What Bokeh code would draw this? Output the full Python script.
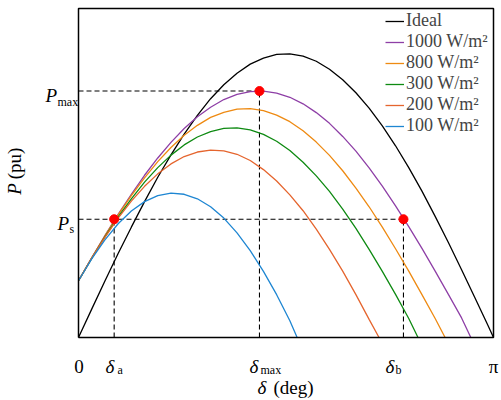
import math
from bokeh.plotting import figure
from bokeh.models import Range1d, Label, Legend, LegendItem
from bokeh.embed import file_html
from bokeh.resources import INLINE

# ---- data ----
delta_ideal = [0.0, 0.1, 0.2, 0.3, 0.4, 0.5, 0.6, 0.7, 0.8, 0.9, 1.0, 1.1, 1.2, 1.3, 1.4, 1.5,
               1.6, 1.7, 1.8, 1.9, 2.0, 2.1, 2.2, 2.3, 2.4, 2.5, 2.6, 2.7, 2.8, 2.9, 3.0, 3.1, math.pi]
p_ideal = [0.000, 0.100, 0.199, 0.296, 0.389, 0.479, 0.565, 0.644, 0.717, 0.783, 0.842, 0.891,
           0.932, 0.964, 0.985, 0.998, 1.000, 0.992, 0.974, 0.946, 0.909, 0.863, 0.809, 0.746,
           0.676, 0.599, 0.516, 0.427, 0.335, 0.239, 0.141, 0.042, 0.000]

delta_1000 = [0.0, 0.1, 0.2, 0.3, 0.4, 0.5, 0.6, 0.7, 0.8, 0.9, 1.0, 1.1, 1.2, 1.3, 1.4, 1.5,
              1.6, 1.7, 1.8, 1.9, 2.0, 2.1, 2.2, 2.3, 2.4, 2.5, 2.6, 2.7, 2.8, 2.9, 2.97]
p_1000 = [0.200, 0.281, 0.359, 0.434, 0.505, 0.572, 0.633, 0.688, 0.737, 0.778, 0.812, 0.839,
          0.857, 0.867, 0.869, 0.862, 0.847, 0.824, 0.793, 0.755, 0.709, 0.657, 0.598, 0.534,
          0.464, 0.391, 0.314, 0.234, 0.152, 0.069, 0.000]

delta_800 = [0.0, 0.1, 0.2, 0.3, 0.4, 0.5, 0.6, 0.7, 0.8, 0.9, 1.0, 1.1, 1.2, 1.3, 1.4, 1.5,
             1.6, 1.7, 1.8, 1.9, 2.0, 2.1, 2.2, 2.3, 2.4, 2.5, 2.6, 2.7, 2.775]
p_800 = [0.200, 0.281, 0.358, 0.432, 0.500, 0.563, 0.620, 0.670, 0.713, 0.748, 0.776, 0.794,
         0.805, 0.807, 0.800, 0.784, 0.761, 0.729, 0.689, 0.642, 0.588, 0.527, 0.461, 0.389,
         0.313, 0.234, 0.151, 0.067, 0.000]

delta_300 = [0.0, 0.1, 0.2, 0.3, 0.4, 0.5, 0.6, 0.7, 0.8, 0.9, 1.0, 1.1, 1.2, 1.3, 1.4, 1.5,
             1.6, 1.7, 1.8, 1.9, 2.0, 2.1, 2.2, 2.3, 2.4, 2.5, 2.57]
p_300 = [0.200, 0.279, 0.355, 0.425, 0.489, 0.548, 0.599, 0.643, 0.679, 0.707, 0.726, 0.737,
         0.739, 0.732, 0.716, 0.692, 0.659, 0.618, 0.570, 0.515, 0.453, 0.385, 0.311, 0.233,
         0.152, 0.067, 0.000]

delta_200 = [0.0, 0.1, 0.2, 0.3, 0.4, 0.5, 0.6, 0.7, 0.8, 0.9, 1.0, 1.1, 1.2, 1.3, 1.4, 1.5,
             1.6, 1.7, 1.8, 1.9, 2.0, 2.1, 2.2, 2.275]
p_200 = [0.200, 0.280, 0.353, 0.421, 0.481, 0.533, 0.577, 0.612, 0.638, 0.654, 0.661, 0.658,
         0.646, 0.624, 0.592, 0.552, 0.503, 0.447, 0.382, 0.311, 0.234, 0.151, 0.064, 0.000]

delta_100 = [0.0, 0.1, 0.2, 0.3, 0.4, 0.5, 0.6, 0.7, 0.8, 0.9, 1.0, 1.1, 1.2, 1.3, 1.4, 1.5,
             1.6, 1.655]
p_100 = [0.200, 0.277, 0.344, 0.401, 0.446, 0.479, 0.500, 0.509, 0.505, 0.489, 0.461, 0.421,
         0.369, 0.306, 0.233, 0.151, 0.059, 0.000]

series_labels = ["Ideal", "1000 W/m\u00b2", "800 W/m\u00b2", "300 W/m\u00b2", "200 W/m\u00b2", "100 W/m\u00b2"]
series_colors = ["#000000", "#8E3FA6", "#EE8A12", "#0E8A12", "#E5652E", "#1E86D2"]

delta_a = 0.27
delta_max = 1.37
delta_b = 2.46
P_max = 0.869
P_s = 0.417

X_MAX = math.pi      # right edge of the axes box
Y_MAX = 1.16         # top edge of the axes box

SERIF = "Liberation Serif"

# The plotting frame covers the whole canvas; the axes box is drawn explicitly so
# that the tick / axis texts outside it stay visible.
W, H = 501, 400
BOX_L, BOX_R, BOX_T, BOX_B = 78, 493, 8, 337
sx = (BOX_R - BOX_L) / X_MAX
sy = (BOX_B - BOX_T) / Y_MAX
x_lo, x_hi = -BOX_L / sx, X_MAX + (W - BOX_R) / sx
y_lo, y_hi = -(H - BOX_B) / sy, Y_MAX + BOX_T / sy

p = figure(width=W, height=H, output_backend="svg", toolbar_location=None,
           x_range=Range1d(x_lo, x_hi), y_range=Range1d(y_lo, y_hi),
           x_axis_location=None, y_axis_location=None, title=None,
           min_border_left=0, min_border_right=0, min_border_top=0, min_border_bottom=0)
p.grid.visible = False
p.outline_line_color = None
p.background_fill_color = "white"
p.border_fill_color = "white"

# dashed guide lines
dash = "5 3"
p.line([0, delta_max], [P_max, P_max], line_color="black", line_width=1.1, line_dash=dash)
p.line([0, delta_b], [P_s, P_s], line_color="black", line_width=1.1, line_dash=dash)
p.line([delta_a, delta_a], [0, P_s], line_color="black", line_width=1.1, line_dash=dash)
p.line([delta_max, delta_max], [0, P_max], line_color="black", line_width=1.1, line_dash=dash)
p.line([delta_b, delta_b], [0, P_s], line_color="black", line_width=1.1, line_dash=dash)

xs = [delta_ideal, delta_1000, delta_800, delta_300, delta_200, delta_100]
ys = [p_ideal, p_1000, p_800, p_300, p_200, p_100]
items = []
for x, y, lab_, col in zip(xs, ys, series_labels, series_colors):
    r = p.line(x, y, line_color=col, line_width=1.3)
    items.append(LegendItem(label=lab_, renderers=[r]))

# axes box
p.line([0, X_MAX, X_MAX, 0, 0], [0, 0, Y_MAX, Y_MAX, 0], line_color="black", line_width=1.5)

p.scatter([delta_a, delta_max, delta_b], [P_s, P_max, P_s], size=9, color="#FF0000")

legend = Legend(items=items, location=(385, 264), padding=0, margin=0, spacing=0,
                glyph_width=19, glyph_height=20, label_height=20, label_standoff=2,
                label_text_font=SERIF, label_text_font_size="18px",
                border_line_color=None, background_fill_alpha=0)
p.add_layout(legend, "center")


def lab(text, x, y, size="19px", style="normal", align="left", angle=0.0, baseline="alphabetic"):
    p.add_layout(Label(x=x, y=y, text=text, text_font=SERIF, text_font_size=size,
                       text_font_style=style, text_align=align, text_baseline=baseline,
                       angle=angle, text_color="black"))


# x tick labels
lab("0", 0.004, -0.1025, align="center")
lab("\u03b4", 0.204, -0.1025, style="italic")
lab("a", 0.295, -0.1131, size="12px")
lab("\u03b4", 1.2945, -0.1025, style="italic")
lab("max", 1.3777, -0.1131, size="12px")
lab("\u03b4", 2.324, -0.1025, style="italic")
lab("b", 2.3997, -0.1131, size="12px")
lab("\u03c0", X_MAX, -0.1025, align="center")

# y tick labels
lab("P", -0.1628, 0.8516, style="italic", align="right")
lab("max", -0.159, 0.8304, size="12px")
lab("P", -0.0719, 0.4028, style="italic", align="right")
lab("s", -0.0681, 0.3816, size="12px")

# axis titles
lab("\u03b4", 1.355, -0.1770, style="italic")
lab("(deg)", 1.476, -0.1770)
lab("P", -0.4845, 0.5234, style="italic", angle=math.pi / 2, align="center", baseline="middle")
lab("(pu)", -0.4845, 0.6136, angle=math.pi / 2, align="center", baseline="middle")

open("out.html", "w").write(file_html(p, INLINE))
